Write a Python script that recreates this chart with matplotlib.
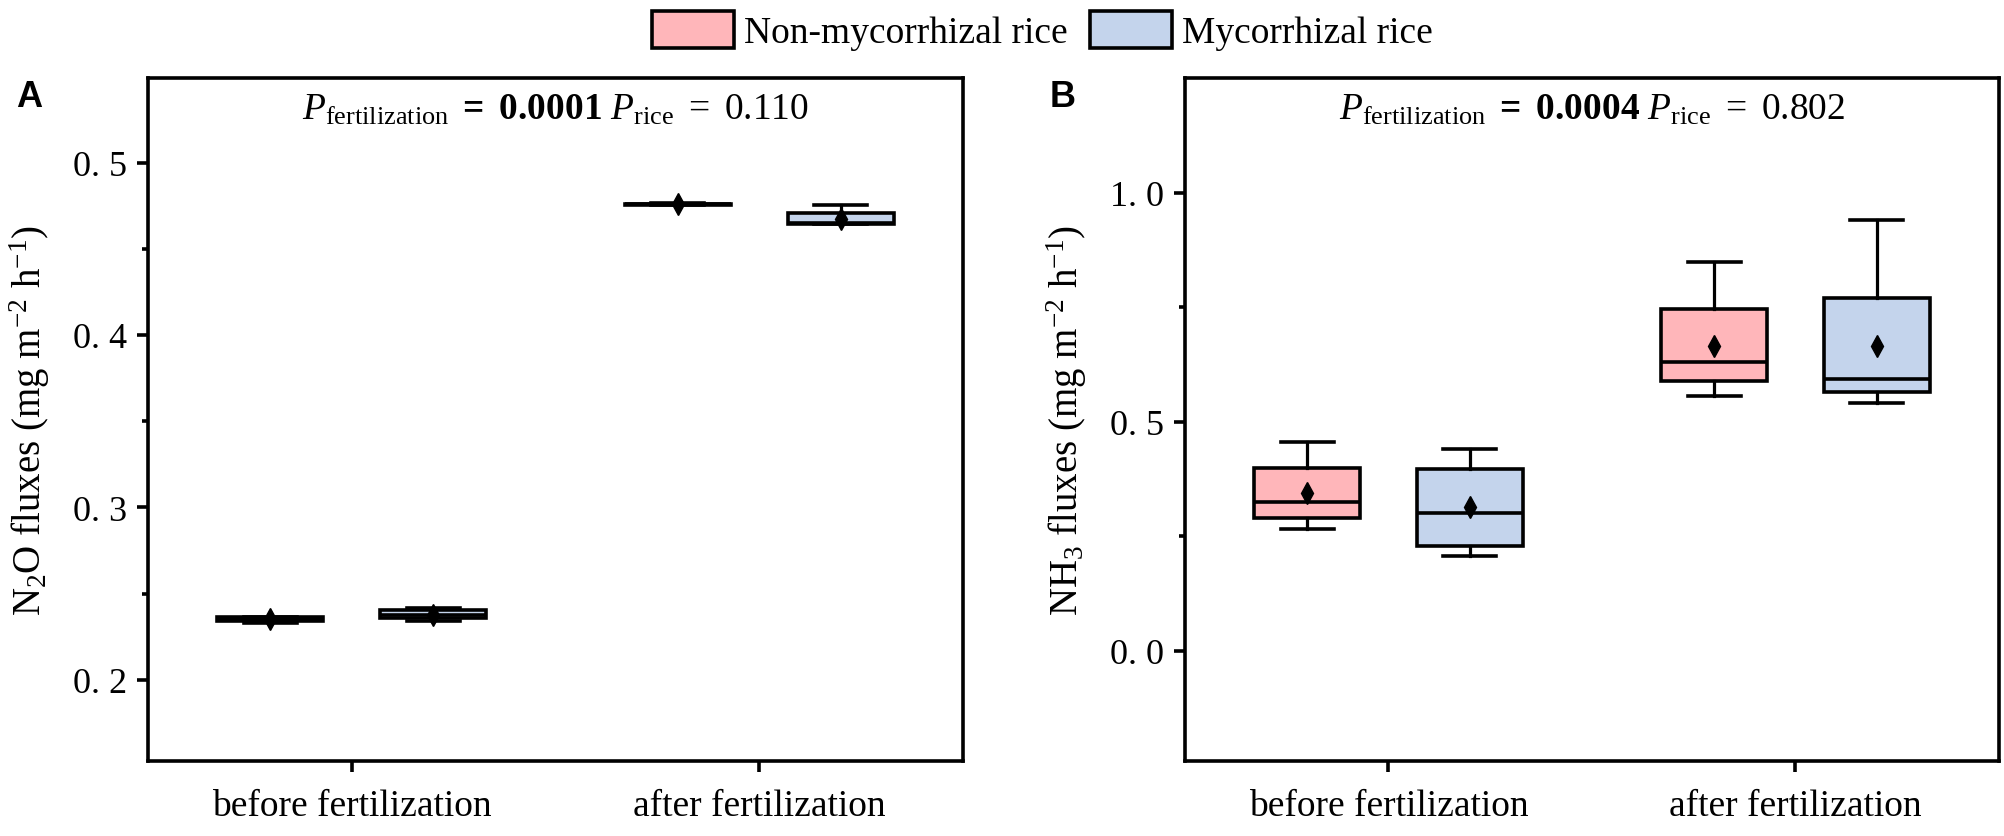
import numpy as np
import matplotlib
matplotlib.use("Agg")
import matplotlib.pyplot as plt
from matplotlib.patches import Patch

plt.rcParams['font.family'] = ['Liberation Serif', 'DejaVu Serif']
plt.rcParams['mathtext.fontset'] = 'custom'
plt.rcParams['mathtext.rm'] = 'Liberation Serif'
plt.rcParams['mathtext.it'] = 'Liberation Serif:italic'
plt.rcParams['mathtext.bf'] = 'Liberation Serif:bold'

# ---- data ----
periods = ["before fertilization", "after fertilization"]
groups = ["Non-mycorrhizal rice", "Mycorrhizal rice"]
colors = ["#FFB6BA", "#C4D4EC"]

# stats per box: [whislo, q1, median, q3, whishi, mean]
# order: before-non, before-myc, after-non, after-myc
n2o_stats = [
    [0.2328, 0.2339, 0.2352, 0.2366, 0.2366, 0.2354],
    [0.2343, 0.2357, 0.2379, 0.2403, 0.2415, 0.2379],
    [0.4752, 0.4755, 0.4758, 0.4760, 0.4763, 0.4758],
    [0.4641, 0.4641, 0.4652, 0.4705, 0.4754, 0.4671],
]
nh3_stats = [
    [0.267, 0.290, 0.326, 0.399, 0.456, 0.345],
    [0.207, 0.228, 0.301, 0.397, 0.441, 0.314],
    [0.557, 0.589, 0.631, 0.746, 0.848, 0.666],
    [0.542, 0.566, 0.593, 0.769, 0.940, 0.666],
]

n2o_ticks = [0.2, 0.3, 0.4, 0.5]
n2o_ticklabels = ["0. 2", "0. 3", "0. 4", "0. 5"]
nh3_ticks = [0.0, 0.5, 1.0]
nh3_ticklabels = ["0. 0", "0. 5", "1. 0"]

p_text_a = r"$\mathit{P}_{\mathrm{fertilization}}\ \mathbf{=\ 0.0001}\ \mathit{P}_{\mathrm{rice}}\ \mathrm{=\ 0.110}$"
p_text_b = r"$\mathit{P}_{\mathrm{fertilization}}\ \mathbf{=\ 0.0004}\ \mathit{P}_{\mathrm{rice}}\ \mathrm{=\ 0.802}$"

FS = 27
LW = 2.6


def draw_panel(ax, stats, ticks, ticklabels, ylim, ylabel, ptext):
    positions = [1 - 0.2, 1 + 0.2, 2 - 0.2, 2 + 0.2]
    bx = []
    for s in stats:
        bx.append(dict(whislo=s[0], q1=s[1], med=s[2], q3=s[3], whishi=s[4],
                       mean=s[5], fliers=[]))
    res = ax.bxp(bx, positions=positions, widths=0.26, capwidths=0.13,
                 patch_artist=True, showmeans=True, showfliers=False,
                 boxprops=dict(linewidth=LW, edgecolor='black'),
                 whiskerprops=dict(linewidth=LW - 0.3, color='black'),
                 capprops=dict(linewidth=LW, color='black'),
                 medianprops=dict(linewidth=LW, color='black'),
                 meanprops=dict(marker='d', markerfacecolor='black',
                                markeredgecolor='black', markersize=11))
    for i, b in enumerate(res['boxes']):
        b.set_facecolor(colors[i % 2])
    ax.set_xlim(0.5, 2.5)
    ax.set_ylim(*ylim)
    ax.set_xticks([1, 2])
    ax.set_xticklabels(periods, fontsize=FS)
    ax.set_yticks(ticks)
    ax.set_yticklabels(ticklabels, fontsize=FS - 1)
    minor = [t + (ticks[1] - ticks[0]) / 2 for t in ticks]
    ax.set_yticks([m for m in minor if ylim[0] < m < ylim[1]], minor=True)
    ax.tick_params(axis='both', which='major', direction='out', length=8, width=LW)
    ax.tick_params(axis='y', which='minor', direction='out', length=4, width=LW)
    ax.tick_params(axis='x', pad=12)
    ax.tick_params(axis='y', pad=7)
    for sp in ax.spines.values():
        sp.set_linewidth(LW)
    ax.set_ylabel(ylabel, fontsize=FS + 1)
    ax.yaxis.set_label_coords(-0.118, 0.5)
    ax.text(0.5, 0.94, ptext, transform=ax.transAxes, ha='center',
            va='baseline', fontsize=FS)


fig = plt.figure(figsize=(20.04, 8.37), dpi=100)
ax1 = fig.add_axes([0.0739, 0.0896, 0.4067, 0.816])
ax2 = fig.add_axes([0.5913, 0.0896, 0.4062, 0.816])

draw_panel(ax1, n2o_stats, n2o_ticks, n2o_ticklabels, (0.153, 0.549),
           r"N$_2$O fluxes (mg m$^{-2}$ h$^{-1}$)", p_text_a)
draw_panel(ax2, nh3_stats, nh3_ticks, nh3_ticklabels, (-0.24, 1.25),
           r"NH$_3$ fluxes (mg m$^{-2}$ h$^{-1}$)", p_text_b)

fig.text(0.008, 0.872, "A", fontsize=26, fontweight='bold',
         family=['Liberation Sans', 'DejaVu Sans'])
fig.text(0.524, 0.872, "B", fontsize=26, fontweight='bold',
         family=['Liberation Sans', 'DejaVu Sans'])

handles = [Patch(facecolor=colors[i], edgecolor='black', linewidth=LW, label=groups[i])
           for i in range(2)]
fig.legend(handles=handles, loc='center', bbox_to_anchor=(0.52, 0.962), ncol=2,
           frameon=False, fontsize=FS, handlelength=2.2, handleheight=1.15,
           handletextpad=0.25, columnspacing=0.6, borderaxespad=0)

fig.savefig("out.png", dpi=100)
